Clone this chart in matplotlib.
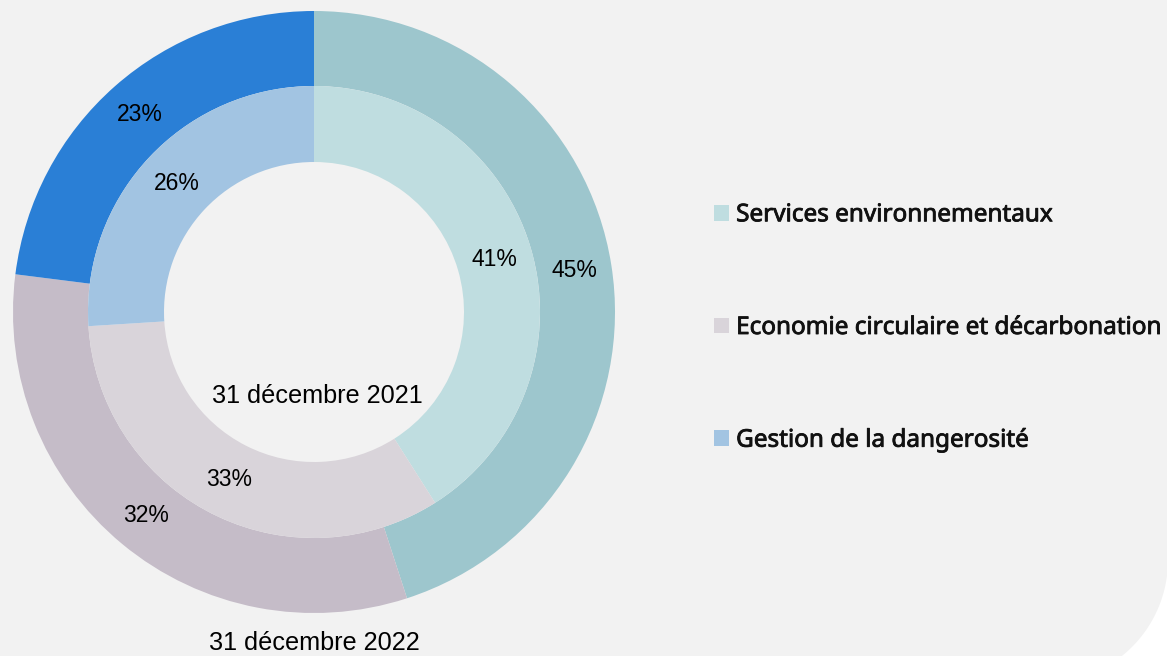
import matplotlib
matplotlib.use("Agg")
import matplotlib.pyplot as plt
import matplotlib.patheffects as pe
import numpy as np
from matplotlib.patches import Polygon

categories = ["Services environnementaux", "Economie circulaire et décarbonation", "Gestion de la dangerosité"]
values_2022 = [45, 32, 23]   # outer ring
values_2021 = [41, 33, 26]   # inner ring
colors_2022 = ["#9dc6cd", "#c5bcc8", "#2a7fd6"]
colors_2021 = ["#bfdde0", "#d9d4da", "#a2c4e2"]
label_2021 = "31 décembre 2021"
label_2022 = "31 décembre 2022"

W, H = 1167, 656
BG = "#f2f2f2"
fig = plt.figure(figsize=(W / 100, H / 100), dpi=100, facecolor=BG)

# white rounded corner bottom-right (decoration)
cx, cy, r = 1045, 560, 123  # pixel coords from top-left
th = np.linspace(0, np.pi / 2, 60)
arc = [((cx + r * np.cos(t)) / W, 1 - (cy + r * np.sin(t)) / H) for t in th]
pts = arc + [(1.01, -0.01), (1.01, 1 - cy / H)]
fig.patches.append(Polygon(pts, closed=True, transform=fig.transFigure,
                           facecolor="white", edgecolor="none", zorder=0))

# pie axes: centre (314, 312) px, outer radius 301 px
R = 301
ccx, ccy = 314, 312
ax = fig.add_axes([(ccx - R) / W, (H - ccy - R) / H, 2 * R / W, 2 * R / H])
ax.set_facecolor("none")

outer_w = 75 / R
inner_r = 226 / R
inner_w = 76 / R
pct_font = dict(family="Liberation Sans", size=16.5, color="black")

ax.pie(values_2022, radius=1.0, colors=colors_2022, startangle=90, counterclock=False,
       wedgeprops=dict(width=outer_w, linewidth=0),
       autopct="%.0f%%", pctdistance=(1 - outer_w / 2), textprops=pct_font)
w_in, _, _ = ax.pie(values_2021, radius=inner_r, colors=colors_2021, startangle=90, counterclock=False,
                    wedgeprops=dict(width=inner_w, linewidth=0),
                    autopct="%.0f%%", pctdistance=(inner_r - inner_w / 2) / inner_r, textprops=pct_font)
ax.set_xlim(-1, 1)
ax.set_ylim(-1, 1)
ax.set_aspect("equal")
ax.axis("off")

ax.text(0.01, -84 / R, label_2021, ha="center", va="center", family="Liberation Sans", size=18.2)
ax.text(0.0, -331 / R, label_2022, ha="center", va="center", family="Liberation Sans", size=18.2)

fs = 17.5
leg = fig.legend(w_in, categories, loc="center left", bbox_to_anchor=(714 / W, 1 - 328 / H),
                 frameon=False, borderpad=0, borderaxespad=0,
                 prop=dict(family="Noto Sans", size=fs),
                 handlelength=0.62, handleheight=0.62, handletextpad=0.29, labelspacing=3.65)
for t in leg.get_texts():
    t.set_color("#111111")
    t.set_path_effects([pe.withStroke(linewidth=0.6, foreground="#111111")])

fig.savefig("out.png", dpi=100, facecolor=BG)
